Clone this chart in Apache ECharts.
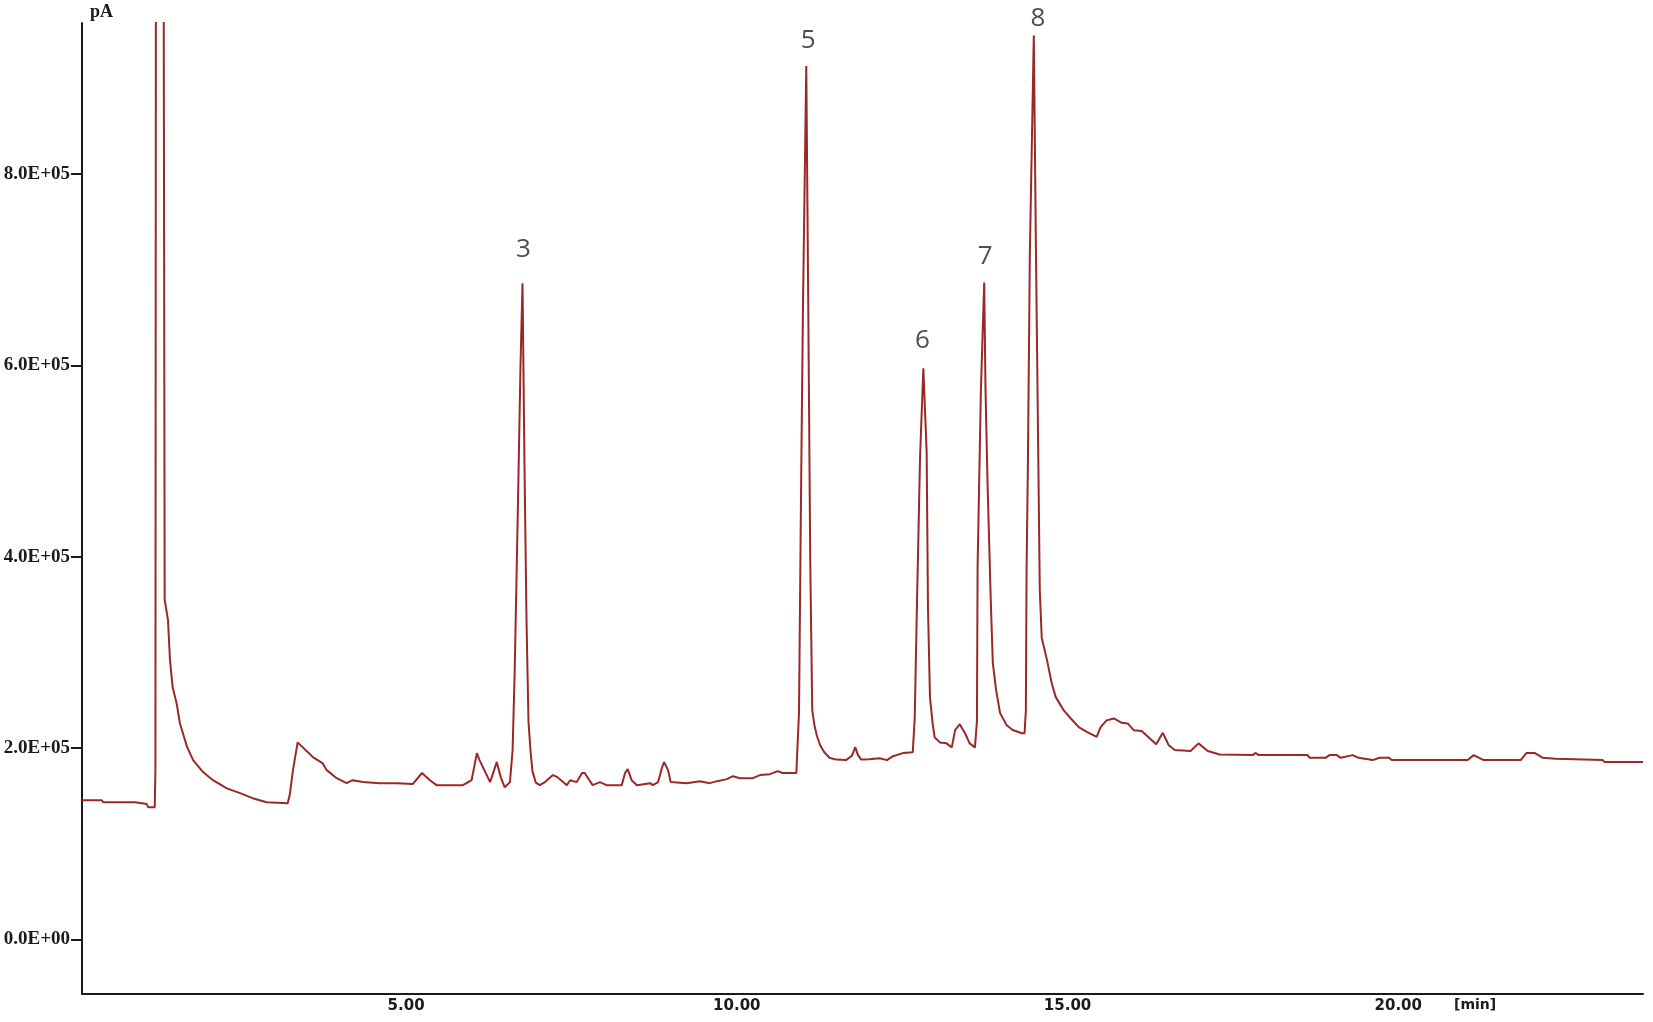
<!DOCTYPE html>
<html>
<head>
<meta charset="utf-8">
<script src="https://cdn.jsdelivr.net/npm/echarts@6/dist/echarts.min.js"></script>
<style>
html,body{margin:0;padding:0;background:#fff;}
#chart{width:1653px;height:1022px;}
</style>
</head>
<body>
<div id="chart"></div>
<script>
// Retention time (min)
const times = [
 0.10,0.40,0.42,0.90,0.92,1.08,1.10,1.20,1.21,1.23,1.30,1.32,1.35,1.40,1.43,1.47,1.53,1.58,1.69,1.78,
 1.93,2.08,2.29,2.49,2.68,2.89,3.21,3.24,3.29,3.36,3.59,3.74,3.80,3.95,4.10,4.19,4.35,4.60,4.86,5.10,
 5.24,5.36,5.46,5.86,5.99,6.07,6.11,6.27,6.37,6.43,6.49,6.57,6.61,6.64,6.67,6.70,6.73,6.76,6.79,6.82,
 6.85,6.88,6.91,6.96,7.02,7.10,7.22,7.28,7.43,7.48,7.58,7.66,7.70,7.82,7.93,8.03,8.26,8.31,8.35,8.41,
 8.49,8.69,8.73,8.81,8.87,8.90,8.96,9.00,9.24,9.44,9.59,9.70,9.85,9.94,10.05,10.24,10.35,10.50,10.62,10.69,
 10.90,10.91,10.94,10.97,11.00,11.05,11.08,11.11,11.14,11.17,11.21,11.26,11.32,11.40,11.50,11.65,11.74,11.79,11.83,11.88,
 12.00,12.16,12.27,12.36,12.51,12.66,12.69,12.72,12.77,12.82,12.87,12.89,12.92,12.96,12.99,13.07,13.17,13.25,13.30,13.37,
 13.45,13.52,13.60,13.63,13.64,13.69,13.74,13.76,13.79,13.84,13.87,13.92,13.98,14.08,14.17,14.31,14.35,14.37,14.38,14.40,
 14.43,14.49,14.52,14.55,14.58,14.61,14.69,14.76,14.82,14.94,15.05,15.17,15.29,15.44,15.50,15.59,15.70,15.82,15.91,16.00,
 16.12,16.34,16.44,16.53,16.62,16.86,16.98,17.12,17.30,17.80,17.84,17.89,18.63,18.66,18.90,18.96,19.07,19.13,19.31,19.40,
 19.61,19.72,19.86,19.90,21.05,21.14,21.29,21.85,21.94,22.06,22.18,22.38,23.09,23.12,23.70
];
// Detector signal (pA)
const signal = [
 145600,145600,143500,143500,141500,141500,138300,138300,177000,2500000,2500000,2500000,355000,334000,292000,264000,247000,226000,201000,187500,
 175000,166500,158000,153000,147700,143500,142500,151000,177000,206000,190700,184000,177000,168600,163400,166500,164500,163400,163400,162400,
 174000,166500,161300,161300,166500,194800,187500,164500,185400,169700,159200,164500,198000,276000,380000,489000,602000,686000,495000,335000,
 228000,198000,176000,164000,161300,164500,171800,170000,161300,166500,164500,174000,174000,161300,164500,161300,161300,174000,178000,166500,
 161300,163400,161300,164500,180000,185400,177000,164500,163400,165500,163400,165500,167600,170700,168600,168600,171800,172800,176000,174000,
 174000,190700,237000,462000,662000,913000,662000,395000,240000,225000,213000,203000,196000,190000,188000,187500,192000,201000,193000,188000,
 188500,189500,187500,191600,194800,195800,232400,339000,504000,597000,509600,347000,253000,226000,211400,206000,205000,200800,218800,225000,
 215600,205000,200800,228000,389000,574000,686700,574000,478000,352600,289000,260600,236600,224000,219000,215600,215600,239800,383000,493700,
 717000,945000,734000,550000,365000,315000,292000,268000,253600,239700,231000,222000,217000,211800,222000,229000,231000,226500,225800,218800,
 218000,204000,216000,203000,198000,197000,205000,197000,193400,192700,195000,192700,192700,189900,189900,192700,192700,189900,192700,189900,
 187500,190000,190000,187500,187500,192700,187500,187500,195000,195000,190000,189000,187500,185400,185400
];
// Labelled peaks
const peakNames = ['3','5','6','7','8'];
const peakTimes = [6.76, 11.05, 12.82, 13.74, 14.49];
const peakHeights = [686000, 913000, 597000, 686700, 945000];
// Axis ticks
const yTicks = [0, 200000, 400000, 600000, 800000];
const xTicks = [5, 10, 15, 20];

// label styling (not data)
const peakLabelGap = [21, 12, 15, 13, 4];
const peakLabelShift = [1, 2, -1, 1, 4];

function sci(v){
  if (v === 0) return '0.0E+00';
  const e = Math.floor(Math.log10(Math.abs(v)));
  const m = v / Math.pow(10, e);
  return m.toFixed(1) + 'E' + (e < 0 ? '-' : '+') + String(Math.abs(e)).padStart(2, '0');
}

const chart = echarts.init(document.getElementById('chart'), null, {renderer:'canvas'});
const lineColor = '#9a2828';
const option = {
  backgroundColor: '#ffffff',
  animation: false,
  grid: {left: 82, top: 23, right: 10, bottom: 28, containLabel: false, outerBoundsMode: 'none'},
  xAxis: {
    type: 'value', min: 0.1, max: 23.7,
    axisLine: {show: true, onZero: false, lineStyle: {color: '#1a1a1a', width: 2}},
    axisTick: {show: false},
    splitLine: {show: false},
    axisLabel: {
      customValues: xTicks, margin: 5, color: '#1a1a1a',
      fontFamily: 'DejaVu Sans', fontWeight: 'bold', fontSize: 15,
      formatter: v => v.toFixed(2)
    }
  },
  yAxis: {
    type: 'value', min: -57000, max: 958000,
    name: 'pA', nameLocation: 'end', nameGap: 2,
    nameTextStyle: {align: 'left', padding: [0,0,0,8], color: '#1a1a1a', fontFamily: 'Liberation Serif', fontWeight: 'bold', fontSize: 18},
    axisLine: {show: true, onZero: false, lineStyle: {color: '#1a1a1a', width: 2}},
    axisTick: {show: true, customValues: yTicks, length: 11, lineStyle: {color: '#1a1a1a', width: 2}},
    splitLine: {show: false},
    axisLabel: {
      customValues: yTicks, margin: 12, color: '#1a1a1a',
      fontFamily: 'Liberation Serif', fontWeight: 'bold', fontSize: 19,
      formatter: v => sci(v)
    }
  },
  series: [
    {
      type: 'line', name: 'FID',
      data: times.map((t, i) => [t, signal[i]]),
      showSymbol: false, symbol: 'none', smooth: false, clip: true,
      lineStyle: {color: lineColor, width: 2},
      z: 2
    },
    {
      type: 'scatter', name: 'peaks',
      symbolSize: 0, silent: true, z: 3,
      data: peakNames.map((n, i) => ({
        value: [peakTimes[i], peakHeights[i]], name: n,
        label: {distance: peakLabelGap[i], offset: [peakLabelShift[i], 0]}
      })),
      label: {
        show: true, position: 'top', formatter: p => p.name,
        fontFamily: 'Open Sans', fontSize: 26, color: '#222222'
      }
    }
  ],
  graphic: [
    {type: 'text', left: 1454, top: 998, style: {text: '[min]', font: 'bold 14px "DejaVu Sans"', fill: '#1a1a1a'}}
  ]
};
chart.setOption(option);
</script>
</body>
</html>
